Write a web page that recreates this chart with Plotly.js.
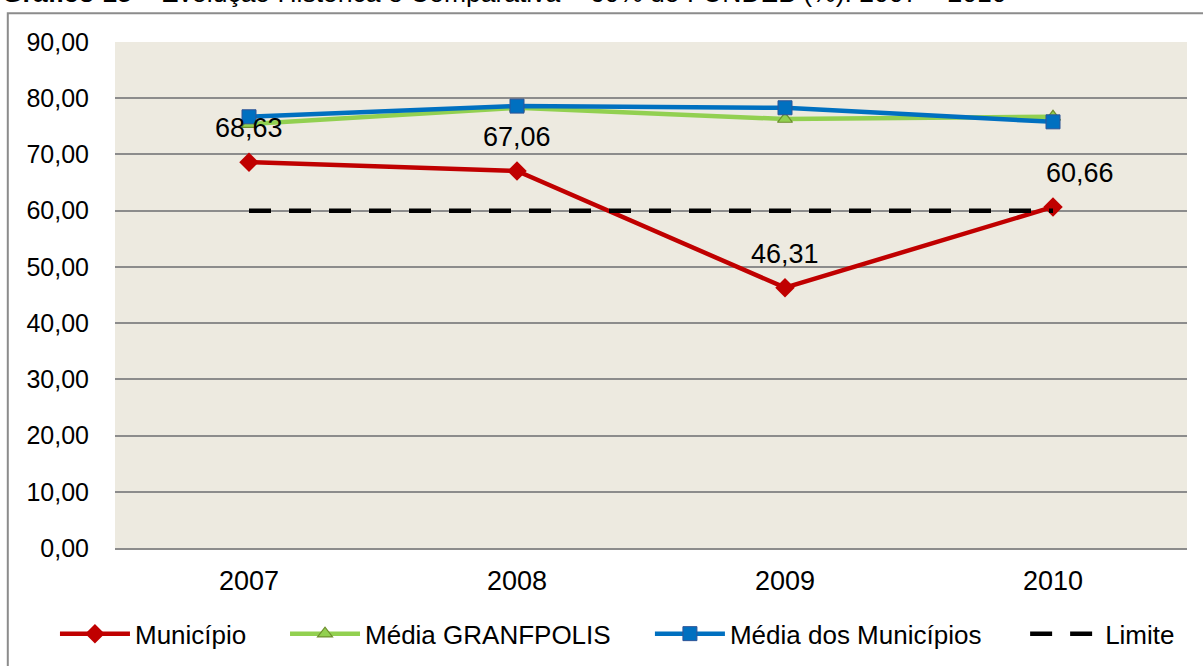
<!DOCTYPE html>
<html><head><meta charset="utf-8">
<script src="https://cdn.plot.ly/plotly-3.0.1.min.js"></script>
<style>html,body{margin:0;padding:0;background:#fff;}#c{width:1203px;height:666px;}</style>
</head><body><div id="c"></div>
<script>
const categories = ['2007', '2008', '2009', '2010'];
const municipio = [68.63, 67.06, 46.31, 60.66];
const mediaGranfpolis = [75.4, 78.3, 76.3, 76.7];
const mediaMunicipios = [76.7, 78.6, 78.3, 75.8];
const limite = [60, 60, 60, 60];
const labelsMunicipio = ['68,63', '67,06', '46,31', '60,66'];

const font = {family: 'Liberation Sans, Arial, sans-serif', color: '#000'};
const f = s => Object.assign({}, font, {size: s});

const traces = [
  {x: categories, y: municipio, name: 'Município', mode: 'lines+markers', legend: 'legend',
   line: {color: '#C00000', width: 4.5},
   marker: {symbol: 'diamond', size: 15, color: '#C00000'}},
  {x: categories, y: mediaGranfpolis, name: 'Média GRANFPOLIS', mode: 'lines+markers', legend: 'legend2',
   line: {color: '#92D050', width: 4.5},
   marker: {symbol: 'triangle-up', size: 13, color: '#92D050', line: {color: '#6E8F2E', width: 1.2}}},
  {x: categories, y: mediaMunicipios, name: 'Média dos Municípios', mode: 'lines+markers', legend: 'legend3',
   line: {color: '#0070C0', width: 4.5},
   marker: {symbol: 'square', size: 14, color: '#0070C0', line: {color: '#2F5597', width: 1}}},
  {x: categories, y: limite, name: 'Limite', mode: 'lines', legend: 'legend4',
   line: {color: '#000', width: 4.5, dash: '22px,18px'}}
];

const annotations = categories.map((c, i) => ({
  xref: 'x', yref: 'y',
  x: i, y: municipio[i], text: labelsMunicipio[i], showarrow: false,
  yshift: 34, xshift: i === categories.length - 1 ? 27 : 0, font: f(27)
}));
annotations.push({
  xref: 'paper', yref: 'paper', x: -0.107, y: 1.063, xanchor: 'left', yanchor: 'bottom',
  text: '<b>Gráfico 15</b> – Evolução Histórica e Comparativa – 60% do FUNDEB (%): 2007 – 2010',
  showarrow: false, font: f(26.5)
});

const legendBase = {orientation: 'h', xanchor: 'left', y: -0.123, yanchor: 'top',
                    font: f(26), itemwidth: 70, bgcolor: 'rgba(0,0,0,0)'};
const lg = x => Object.assign({}, legendBase, {x: x});

const layout = {
  width: 1203, height: 666,
  margin: {l: 115, r: 16, t: 42, b: 118, autoexpand: false},
  paper_bgcolor: '#fff', plot_bgcolor: '#EDEAE0',
  separators: ',.',
  showlegend: true,
  legend: lg(-0.056), legend2: lg(0.1586), legend3: lg(0.499), legend4: lg(0.849),
  xaxis: {type: 'category', range: [-0.5, 3.5], showgrid: false, zeroline: false,
          showline: true, linecolor: '#8c8c8c', linewidth: 2, automargin: false,
          ticks: '', tickfont: f(27), ticklabelstandoff: 8},
  yaxis: {range: [0, 90], dtick: 10, tickformat: '.2f', showgrid: true, gridcolor: '#8c8c8c',
          gridwidth: 2, zeroline: false, showline: false, ticks: '', automargin: false,
          tickfont: f(25), ticklabelstandoff: 25},
  annotations: annotations,
  shapes: [{type: 'rect', xref: 'paper', yref: 'paper', x0: -0.1, x1: 1.1, y0: -0.5, y1: 1.057,
            line: {color: '#8c8c8c', width: 2}, fillcolor: 'rgba(0,0,0,0)', layer: 'below'}]
};

Plotly.newPlot('c', traces, layout, {displayModeBar: false, staticPlot: true});
</script></body></html>
